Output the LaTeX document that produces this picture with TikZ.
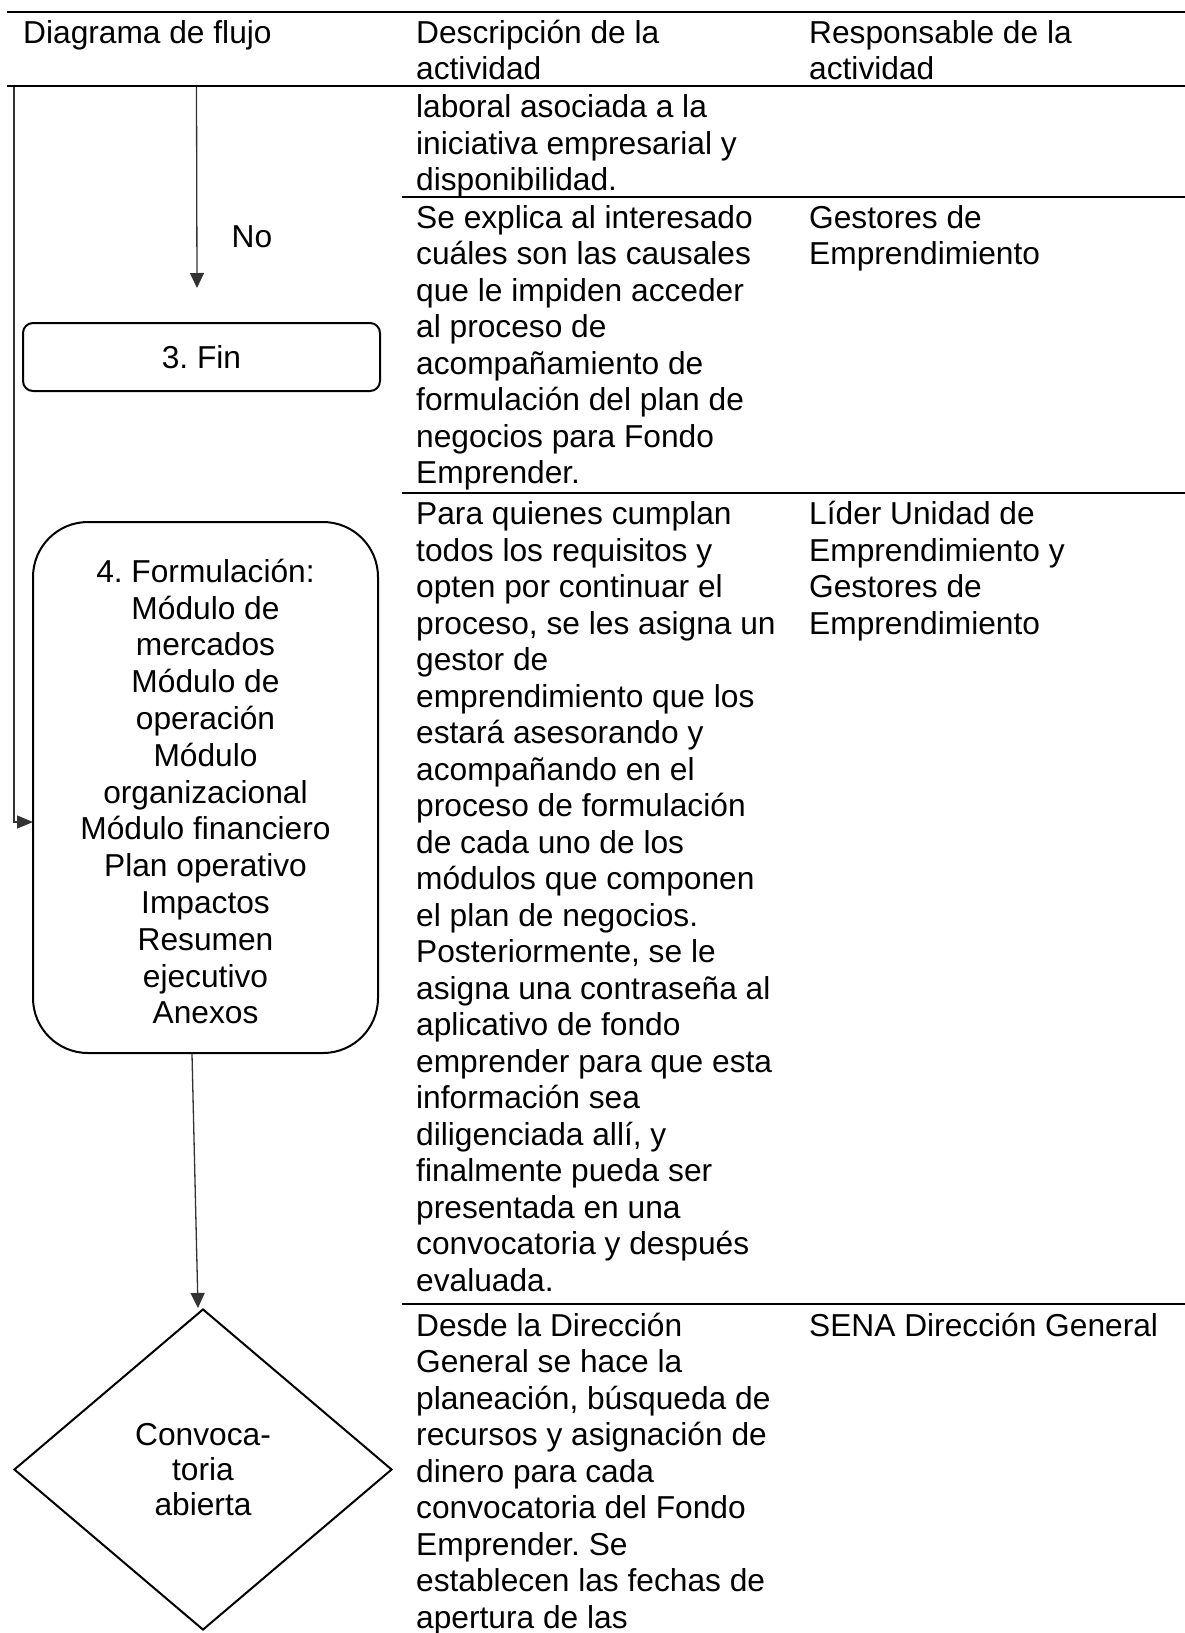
\documentclass[tikz,border=0pt]{standalone}
\usepackage{fontspec}
\setmainfont{Liberation Sans}
\usetikzlibrary{shapes.geometric,arrows.meta}
\newcommand\cellfont{\frenchspacing\fontsize{31.7pt}{36.5pt}\selectfont}
\newcommand\boxfont{\frenchspacing\fontsize{31.7pt}{36.8pt}\selectfont}
\newcommand\diafont{\frenchspacing\fontsize{31.7pt}{35pt}\selectfont}
\begin{document}
\frenchspacing
\begin{tikzpicture}[x=1pt,y=-1pt,
  rule/.style={line width=2pt,black},
  hrule/.style={line width=2.6pt,black},
  celltext/.style={anchor=north west,inner sep=0pt,align=left,font=\cellfont},
  roundbox/.style={draw,line width=2pt,rounded corners=#1,align=center,inner sep=0pt},
  conn/.style={line width=1.3pt,draw=black!80,-{Triangle[length=15pt,width=14pt]}},
  connin/.style={line width=1.3pt,draw=black!80,-{Triangle[length=16pt,width=13pt]}}]
\useasboundingbox (0,0) rectangle (1185,1633);

% table rules
\draw[rule] (7,12) -- (1185,12);
\draw[hrule] (7,86) -- (1185,86);
\draw[rule] (402,197) -- (1185,197);
\draw[rule] (402,493) -- (1185,493);
\draw[rule] (402,1304) -- (1185,1304);

% header
\node[celltext] (h1) at (23,17.45) {\strut Diagrama de flujo};
\node[celltext] (h2) at (416,17.45) {\strut Descripción de la\\actividad};
\node[celltext] (h3) at (809,17.45) {\strut Responsable de la\\actividad};

% row 1
\node[celltext] (r1d) at (416,91.95) {\strut laboral asociada a la\\iniciativa empresarial y\\disponibilidad.};

% row 2
\node[celltext] (r2d) at (416,202.45) {\strut Se explica al interesado\\cuáles son las causales\\que le impiden acceder\\al proceso de\\acompañamiento de\\formulación del plan de\\negocios para Fondo\\Emprender.};
\node[celltext] (r2r) at (809,202.45) {\strut Gestores de\\Emprendimiento};

% row 3
\node[celltext] (r3d) at (416,498.95) {\strut Para quienes cumplan\\todos los requisitos y\\opten por continuar el\\proceso, se les asigna un\\gestor de\\emprendimiento que los\\estará asesorando y\\acompañando en el\\proceso de formulación\\de cada uno de los\\módulos que componen\\el plan de negocios.\\Posteriormente, se le\\asigna una contraseña al\\aplicativo de fondo\\emprender para que esta\\información sea\\diligenciada allí, y\\finalmente pueda ser\\presentada en una\\convocatoria y después\\evaluada.};
\node[celltext] (r3r) at (809,498.95) {\strut Líder Unidad de\\Emprendimiento y\\Gestores de\\Emprendimiento};

% row 4
\node[celltext] (r4d) at (416,1310.45) {\strut Desde la Dirección\\General se hace la\\planeación, búsqueda de\\recursos y asignación de\\dinero para cada\\convocatoria del Fondo\\Emprender. Se\\establecen las fechas de\\apertura de las};
\node[celltext] (r4r) at (809,1310.45) {\strut SENA Dirección General};

% flowchart
\node[roundbox=10pt,minimum width=357pt,minimum height=68pt,font=\cellfont] (fin) at (201.5,357) {3. Fin};
\node[roundbox=55pt,minimum width=345pt,minimum height=531pt,font=\boxfont] (form) at (205.5,787.5)
  {\rule{0pt}{31.5pt}4. Formulación:\\Módulo de\\mercados\\Módulo de\\operación\\Módulo\\organizacional\\Módulo financiero\\Plan operativo\\Impactos\\Resumen\\ejecutivo\\Anexos};
\node[diamond,draw,line width=2pt,minimum width=378pt,minimum height=321pt,inner sep=0pt,align=center,font=\diafont] (dia) at (203,1469.5) {Convoca-\\toria\\abierta};

\node[font=\cellfont,inner sep=0pt] (no) at (252,237) {No};

\coordinate (a0) at (14,87);
\coordinate (a1) at (33,822);
\draw[connin] (a0) |- (a1);

\coordinate (b0) at (196.5,87);
\coordinate (b1) at (197,288);
\draw[conn] (b0) -- (b1);

\draw[conn] ([xshift=-13.5pt]form.south) -- ([xshift=-5pt]dia.north);
\end{tikzpicture}
\end{document}
